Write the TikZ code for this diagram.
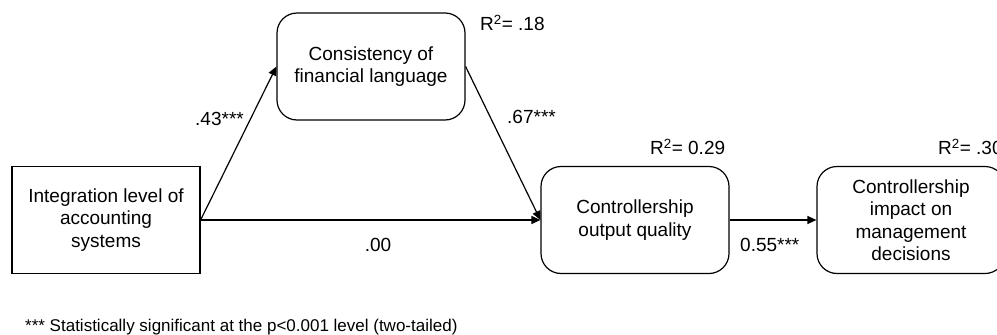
\documentclass[tikz,border=0pt]{standalone}
\usepackage{fontspec}
\setmainfont{Liberation Sans}
\usetikzlibrary{arrows.meta}
\begin{document}
\begin{tikzpicture}[x=1pt,y=-1pt,
  box/.style={draw, line width=1.2pt, minimum width=188pt, minimum height=107pt,
    align=center, inner sep=2pt, font=\fontsize{19}{22.5}\selectfont},
  rbox/.style={box, rounded corners=20pt},
  lbl/.style={font=\fontsize{19}{22.5}\selectfont, inner sep=0pt},
  conn/.style={line width=1.2pt, -{Triangle[length=9pt,width=8pt]}}]
\useasboundingbox (0,0) rectangle (997,335);

% variables
\node[box]  (L) at (106,220)   {Integration level of\\accounting\\systems};
\node[rbox] (T) at (371,66.5)  {Consistency of\\financial language};
\node[rbox] (M) at (635,220)   {Controllership\\output quality};
\node[rbox] (R) at (911,220)   {Controllership\\impact on\\management\\decisions};

% paths
\draw[conn] (L.east) -- (T.west);
\draw[conn] (T.east) -- (M.west);
\draw[conn] (L.east) -- (M.west);
\draw[conn] (M.east) -- (R.west);

% coefficients
\node[lbl, anchor=west] (a1) at (195,119) {.43***};
\node[lbl, anchor=west] (a2) at (507,117) {.67***};
\node[lbl] (a3) at (378,245) {.00};
\node[lbl, anchor=west] (a4) at (740,245) {0.55***};

% explained variance
\node[lbl, anchor=west] (r1) at (480,23)  {R\textsuperscript{2}= .18};
\node[lbl, anchor=west] (r2) at (650,147) {R\textsuperscript{2}= 0.29};
\node[lbl, anchor=west] (r3) at (938,147) {R\textsuperscript{2}= .30};

% note
\node[anchor=west, inner sep=0pt, font=\fontsize{17}{19}\selectfont] (note) at (25,327)
  {*** Statistically significant at the p<0.001 level (two-tailed)};
\end{tikzpicture}
\end{document}
